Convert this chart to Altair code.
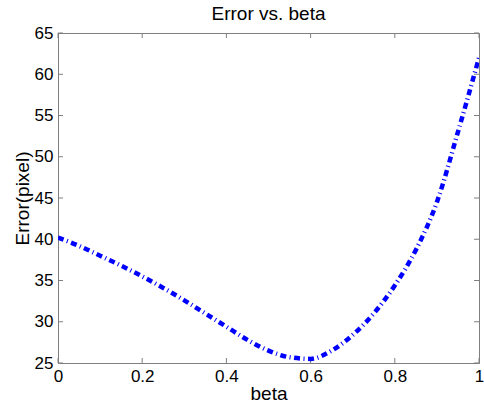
import altair as alt
import pandas as pd

# Reprojection error as a function of the weighting parameter beta
beta = [0.0, 0.05, 0.1, 0.15, 0.2, 0.25, 0.3, 0.35, 0.4, 0.45, 0.5,
        0.55, 0.6, 0.65, 0.7, 0.75, 0.8, 0.85, 0.9, 0.95, 1.0]
error = [40.2, 39.2, 38.0, 36.8, 35.5, 34.1, 32.6, 31.0, 29.4, 27.8, 26.5,
         25.7, 25.5, 26.5, 28.4, 31.0, 34.4, 38.7, 44.5, 53.0, 62.0]

x_ticks = [0, 0.2, 0.4, 0.6, 0.8, 1.0]
y_ticks = [25, 30, 35, 40, 45, 50, 55, 60, 65]

W, H = 421, 330
FONT = "Liberation Sans"
AXIS_GRAY = "#7f7f7f"
TICK_LEN = 5

df = pd.DataFrame({"beta": beta, "error": error})
xt = pd.DataFrame({"t": x_ticks})
yt = pd.DataFrame({"t": y_ticks})

x_scale = alt.Scale(domain=[0, 1], nice=False)
y_scale = alt.Scale(domain=[25, 65], nice=False, zero=False)

line = alt.Chart(df).mark_line(
    color="#0000ff", strokeWidth=4.5, strokeDash=[6, 3.5, 1, 3.5],
    strokeCap="butt", interpolate="monotone", clip=True
).encode(
    x=alt.X("beta:Q", scale=x_scale, title="beta",
            axis=alt.Axis(values=x_ticks, format="~g", tickSize=0,
                          labelFlush=False, labelPadding=5, titlePadding=0,
                          grid=False)),
    y=alt.Y("error:Q", scale=y_scale, title="Error(pixel)",
            axis=alt.Axis(values=y_ticks, format="~g", tickSize=0,
                          labelPadding=5, titlePadding=2, grid=False)),
)

# Inward-pointing tick marks on all four sides of the box
tick_style = dict(color=AXIS_GRAY, strokeWidth=1)
x_bottom = alt.Chart(xt).mark_rule(**tick_style).encode(
    x=alt.X("t:Q", scale=x_scale), y=alt.value(H), y2=alt.value(H - TICK_LEN))
x_top = alt.Chart(xt).mark_rule(**tick_style).encode(
    x=alt.X("t:Q", scale=x_scale), y=alt.value(0), y2=alt.value(TICK_LEN))
y_left = alt.Chart(yt).mark_rule(**tick_style).encode(
    y=alt.Y("t:Q", scale=y_scale), x=alt.value(0), x2=alt.value(TICK_LEN))
y_right = alt.Chart(yt).mark_rule(**tick_style).encode(
    y=alt.Y("t:Q", scale=y_scale), x=alt.value(W), x2=alt.value(W - TICK_LEN))

chart = alt.layer(x_bottom, x_top, y_left, y_right, line).properties(
    width=W, height=H,
    title=alt.TitleParams("Error vs. beta", font=FONT, fontSize=19,
                          fontWeight="normal", color="black", offset=0),
    autosize="none",
    padding={"left": 58, "top": 33, "right": 5, "bottom": 46},
).configure_view(
    stroke=AXIS_GRAY, strokeWidth=1
).configure_axis(
    labelFont=FONT, labelFontSize=17, labelColor="black",
    titleFont=FONT, titleFontSize=19, titleFontWeight="normal",
    titleColor="black", domainColor=AXIS_GRAY, domain=True
)

chart.save("out.html", embed_options={"renderer": "svg", "actions": False})
